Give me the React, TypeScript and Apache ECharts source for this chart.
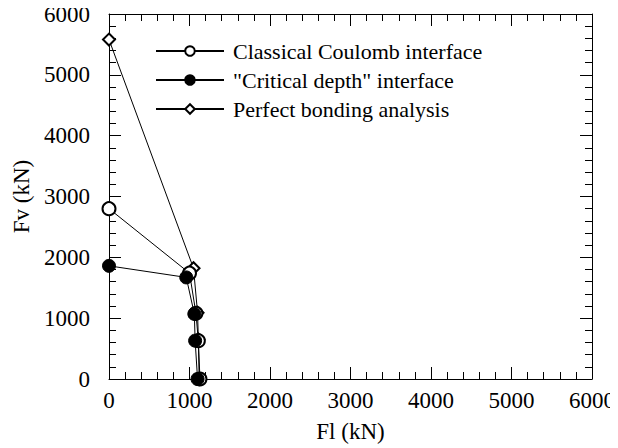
import React, { useEffect, useRef } from "react";
import * as echarts from "echarts";

const seriesNames = [
  "Classical Coulomb interface",
  '"Critical depth" interface',
  "Perfect bonding analysis",
];
const coulombData: number[][] = [
  [0, 2800],
  [1000, 1740],
  [1080, 1080],
  [1110, 630],
  [1130, 0],
];
const criticalData: number[][] = [
  [0, 1860],
  [960, 1670],
  [1060, 1070],
  [1070, 630],
  [1100, 0],
];
const perfectData: number[][] = [
  [0, 5580],
  [1050, 1820],
  [1100, 1090],
  [1110, 650],
  [1120, 0],
];

const FONT = "'Liberation Serif', 'Times New Roman', serif";

export default function App() {
  const ref = useRef<HTMLDivElement>(null);
  useEffect(() => {
    if (!ref.current) return;
    const chart = echarts.init(ref.current, null, { renderer: "svg" });
    const axisCommon = {
      min: 0,
      max: 6000,
      interval: 1000,
      axisLine: { show: true, onZero: false, lineStyle: { color: "#000", width: 1 } },
      axisTick: { show: true, inside: true, length: 12, lineStyle: { color: "#000" } },
      minorTick: { show: true, splitNumber: 5, length: 7, lineStyle: { color: "#000" } },
      splitLine: { show: false },
    };
    const txt = { color: "#000", fontSize: 22, fontFamily: FONT };
    const axTxt = { color: "#000", fontSize: 23, fontFamily: FONT };
    const fmt = (v: number) => String(v);
    chart.setOption({
      animation: false,
      backgroundColor: "#fff",
      textStyle: txt,
      grid: { left: 109, right: 25, top: 14, bottom: 67, containLabel: false },
      legend: {
        data: seriesNames,
        orient: "vertical",
        left: 150,
        top: 35,
        itemWidth: 68,
        itemHeight: 12,
        itemGap: 7,
        textStyle: { ...txt, padding: [0, 0, 0, 4] },
        inactiveColor: "#000",
      },
      xAxis: [
        {
          ...axisCommon,
          type: "value",
          position: "bottom",
          name: "Fl (kN)",
          nameLocation: "middle",
          nameGap: 41,
          nameTextStyle: axTxt,
          axisLabel: { ...axTxt, margin: 10, formatter: fmt },
        },
        {
          ...axisCommon,
          type: "value",
          position: "top",
          axisLabel: { show: false },
        },
      ],
      yAxis: [
        {
          ...axisCommon,
          type: "value",
          position: "left",
          name: "Fv (kN)",
          nameLocation: "middle",
          nameGap: 74,
          nameTextStyle: axTxt,
          axisLabel: { ...axTxt, margin: 19, formatter: fmt },
        },
        {
          ...axisCommon,
          type: "value",
          position: "right",
          axisLabel: { show: false },
        },
      ],
      series: [
        {
          name: seriesNames[2],
          type: "line",
          data: perfectData,
          symbol: "emptyDiamond",
          symbolSize: 12,
          z: 2,
          lineStyle: { color: "#000", width: 1 },
          itemStyle: { color: "#000", borderColor: "#000", borderWidth: 1 },
        },
        {
          name: seriesNames[0],
          type: "line",
          data: coulombData,
          symbol: "emptyCircle",
          symbolSize: 13,
          z: 3,
          lineStyle: { color: "#000", width: 1 },
          itemStyle: { color: "#000", borderColor: "#000", borderWidth: 1 },
        },
        {
          name: seriesNames[1],
          type: "line",
          data: criticalData,
          symbol: "circle",
          symbolSize: 13,
          z: 4,
          lineStyle: { color: "#000", width: 1 },
          itemStyle: { color: "#000", borderColor: "#000", borderWidth: 1 },
        },
      ],
    });
    return () => chart.dispose();
  }, []);
  return <div ref={ref} style={{ width: 618, height: 448, marginLeft: -8, marginTop: -8 }} />;
}
